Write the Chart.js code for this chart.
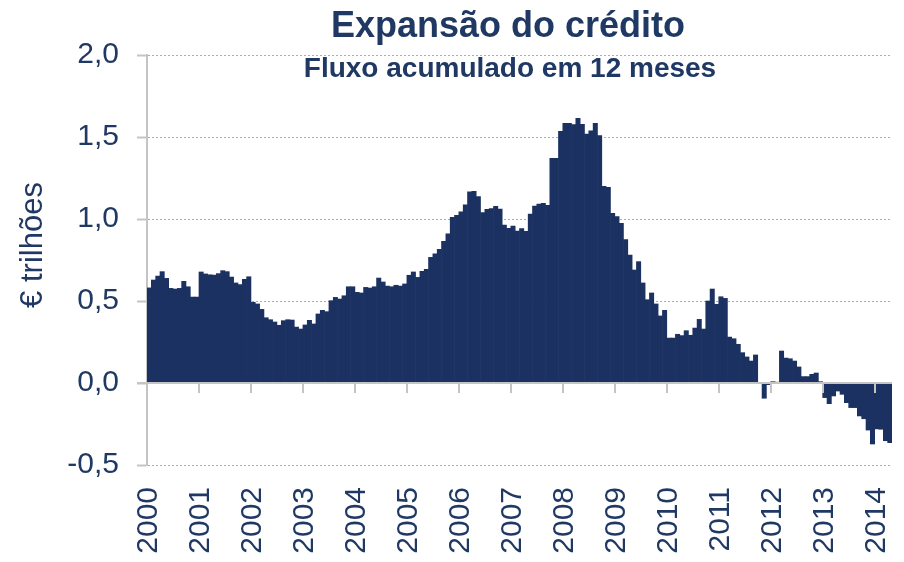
<!DOCTYPE html>
<html>
<head>
<meta charset="utf-8">
<script src="https://cdn.jsdelivr.net/npm/chart.js@4/dist/chart.umd.min.js"></script>
<style>
  html, body { margin: 0; padding: 0; background: #fff; }
  #wrap { width: 904px; height: 562px; position: relative; }
</style>
</head>
<body>
<div id="wrap"><canvas id="chart-area" width="904" height="562"></canvas></div>
<script>
  // anos do eixo x (um rótulo por janeiro)
  var years = ['2000', '2001', '2002', '2003', '2004', '2005', '2006', '2007',
               '2008', '2009', '2010', '2011', '2012', '2013', '2014'];

  // fluxo acumulado em 12 meses, € trilhões, jan/2000 .. abr/2014
  var credit = [
    0.58, 0.628, 0.652, 0.679, 0.638, 0.577, 0.573, 0.577, 0.62, 0.587, 0.524, 0.524,     // 2000
    0.677, 0.665, 0.66, 0.658, 0.667, 0.685, 0.679, 0.646, 0.61, 0.60, 0.632, 0.648,      // 2001
    0.492, 0.482, 0.449, 0.398, 0.386, 0.372, 0.352, 0.38, 0.386, 0.384, 0.341, 0.329,   // 2002
    0.354, 0.382, 0.36, 0.421, 0.443, 0.435, 0.502, 0.522, 0.512, 0.532, 0.587, 0.587,   // 2003
    0.553, 0.549, 0.583, 0.579, 0.587, 0.64, 0.616, 0.591, 0.587, 0.596, 0.591, 0.604,   // 2004
    0.657, 0.677, 0.644, 0.681, 0.693, 0.766, 0.787, 0.815, 0.864, 0.909, 1.010, 1.022, // 2005
    1.043, 1.087, 1.165, 1.169, 1.136, 1.039, 1.059, 1.063, 1.077, 1.061, 0.963, 0.943, // 2006
    0.957, 0.927, 0.941, 0.925, 1.030, 1.079, 1.091, 1.096, 1.083, 1.370, 1.370, 1.535, // 2007
    1.583, 1.583, 1.575, 1.614, 1.577, 1.518, 1.537, 1.583, 1.508, 1.199, 1.193, 1.035, // 2008
    1.014, 0.974, 0.874, 0.780, 0.689, 0.740, 0.610, 0.508, 0.549, 0.482, 0.409, 0.443, // 2009
    0.274, 0.274, 0.297, 0.289, 0.319, 0.291, 0.335, 0.388, 0.329, 0.50, 0.573, 0.48,   // 2010
    0.526, 0.516, 0.28, 0.27, 0.236, 0.185, 0.159, 0.134, 0.171, 0, -0.093, -0.01,       // 2011
    0.008, 0.005, 0.195, 0.152, 0.148, 0.134, 0.098, 0.039, 0.039, 0.053, 0.061, 0.008,  // 2012
    -0.089, -0.126, -0.079, -0.049, -0.069, -0.12, -0.15, -0.15, -0.201, -0.218, -0.287, -0.372, // 2013
    -0.28, -0.282, -0.352, -0.364                                                         // 2014
  ];

  var navy = '#1b3161';
  var textNavy = '#1f3864';
  var axisGray = '#c4c4c4';
  var fontFam = "'Liberation Sans', Arial, sans-serif";

  // categorias mensais
  var months = [];
  for (var i = 0; i < credit.length; i++) {
    var m = i % 12 + 1;
    months.push(years[Math.floor(i / 12)] + '-' + (m < 10 ? '0' + m : m));
  }

  // eixo zero com marcas anuais + títulos
  var decor = {
    id: 'decor',
    afterDatasetsDraw: function (chart) {
      var ctx = chart.ctx, x = chart.scales.x, y = chart.scales.y;
      var y0 = y.getPixelForValue(0);
      var half = (x.getPixelForValue(1) - x.getPixelForValue(0)) / 2;
      ctx.save();
      ctx.strokeStyle = axisGray;
      ctx.lineWidth = 2;
      ctx.beginPath();
      ctx.moveTo(chart.chartArea.left - 10, y0);
      ctx.lineTo(chart.chartArea.right, y0);
      for (var i = 0; i < credit.length; i += 12) {
        var px = Math.round(x.getPixelForValue(i) - half);
        ctx.moveTo(px, y0);
        ctx.lineTo(px, y0 + 10);
      }
      ctx.stroke();
      ctx.restore();
    },
    afterDraw: function (chart) {
      var ctx = chart.ctx;
      ctx.save();
      ctx.fillStyle = textNavy;
      ctx.textAlign = 'center';
      ctx.textBaseline = 'alphabetic';
      ctx.font = 'bold 36px ' + fontFam;
      ctx.fillText('Expansão do crédito', 508, 37);
      ctx.font = 'bold 28px ' + fontFam;
      ctx.fillText('Fluxo acumulado em 12 meses', 510, 77);
      ctx.translate(33, 245);
      ctx.rotate(-Math.PI / 2);
      ctx.textBaseline = 'middle';
      ctx.font = '31px ' + fontFam;
      ctx.fillText('€ trilhões', 0, 0);
      ctx.restore();
    }
  };

  var ctx = document.getElementById('chart-area').getContext('2d');
  window.creditChart = new Chart(ctx, {
    type: 'bar',
    data: {
      labels: months,
      datasets: [{
        data: credit,
        backgroundColor: navy,
        borderWidth: 0,
        barPercentage: 1.0,
        categoryPercentage: 1.0
      }]
    },
    options: {
      responsive: false,
      animation: false,
      devicePixelRatio: 1,
      layout: { padding: { top: 55, right: 12, bottom: 0, left: 0 } },
      plugins: {
        legend: { display: false },
        tooltip: { enabled: false }
      },
      scales: {
        x: {
          grid: { display: false, drawTicks: false },
          border: { display: false },
          ticks: {
            autoSkip: false,
            minRotation: 90,
            maxRotation: 90,
            padding: 22,
            color: textNavy,
            font: { family: fontFam, size: 30 },
            callback: function (v, i) {
              return i % 12 === 0 ? years[i / 12] : '';
            }
          },
          afterFit: function (s) {
            s.height = 97;
            s.paddingLeft = 0;
            s.paddingRight = 0;
          }
        },
        y: {
          min: -0.5,
          max: 2.0,
          grid: {
            color: '#ababab',
            lineWidth: 1,
            tickLength: 10,
            tickColor: axisGray,
            tickWidth: 2,
            tickBorderDash: []
          },
          border: { display: true, color: axisGray, width: 2, dash: [2, 2] },
          ticks: {
            stepSize: 0.5,
            padding: 18,
            color: textNavy,
            font: { family: fontFam, size: 30 },
            callback: function (v) { return v.toFixed(1).replace('.', ','); }
          },
          afterFit: function (s) { s.width = 147; }
        }
      }
    },
    plugins: [decor]
  });
</script>
</body>
</html>
